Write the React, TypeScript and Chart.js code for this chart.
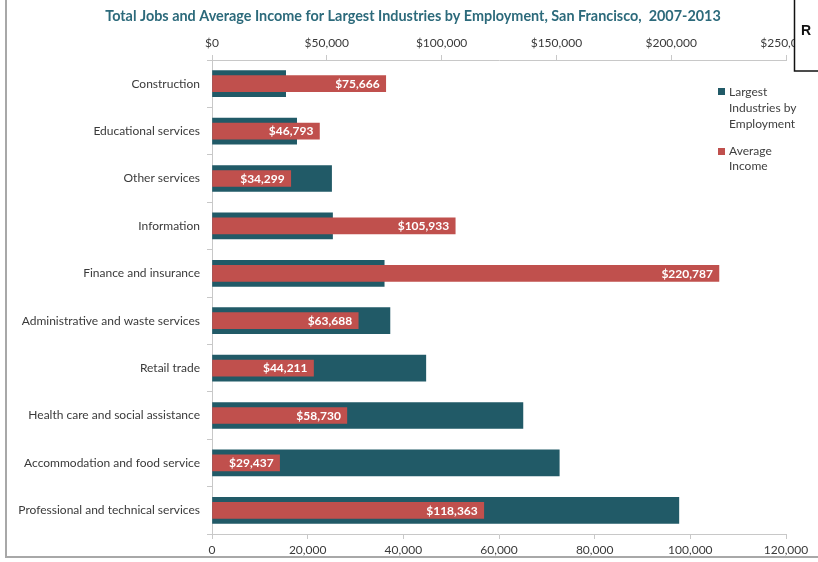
import React, { useEffect, useRef } from "react";
import { Chart, registerables } from "chart.js";

Chart.register(...registerables);

const categories = [
  "Construction",
  "Educational services",
  "Other services",
  "Information",
  "Finance and insurance",
  "Administrative and waste services",
  "Retail trade",
  "Health care and social assistance",
  "Accommodation and food service",
  "Professional and technical services",
];
const jobs = [15400, 17700, 25000, 25200, 36000, 37200, 44700, 65000, 72600, 97600];
const income = [75666, 46793, 34299, 105933, 220787, 63688, 44211, 58730, 29437, 118363];
const jobsAxisMax = 120000;
const jobsAxisStep = 20000;
const incomeAxisMax = 250000;
const incomeAxisStep = 50000;
const title = "Total Jobs and Average Income for Largest Industries by Employment, San Francisco,  2007-2013";
const jobsLegend = ["Largest", "Industries by", "Employment"];
const incomeLegend = ["Average", "Income"];
const cornerText = "R";

const TEAL = "#215a67";
const RED = "#c0504d";
const FONT = "Lato, 'Liberation Sans', sans-serif";
const AXIS_GRAY = "#c8c8c8";
const TEXT = "#3a3a3a";

const fmt = (v: number) => Math.round(v).toLocaleString("en-US");

export default function App() {
  const ref = useRef<HTMLCanvasElement>(null);
  useEffect(() => {
    const overlay = {
      id: "overlay",
      afterDatasetsDraw(chart: any) {
        const ctx = chart.ctx;
        const meta = chart.getDatasetMeta(1);
        ctx.save();
        ctx.font = `bold 12px ${FONT}`;
        ctx.fillStyle = "#ffffff";
        ctx.textAlign = "right";
        ctx.textBaseline = "middle";
        meta.data.forEach((el: any, i: number) => {
          ctx.fillText("$" + fmt(income[i]), el.x - 6, el.y + 0.5);
        });
        ctx.restore();
      },
      afterDraw(chart: any) {
        const ctx = chart.ctx;
        ctx.save();
        // title
        ctx.font = `bold 14.4px ${FONT}`;
        ctx.fillStyle = "#2c6a7b";
        ctx.textAlign = "center";
        ctx.textBaseline = "middle";
        ctx.fillText(title, 413, 16);
        // legend
        ctx.font = `12px ${FONT}`;
        ctx.textAlign = "left";
        ctx.fillStyle = TEAL;
        ctx.fillRect(718, 88, 7, 7);
        ctx.fillStyle = "#404040";
        jobsLegend.forEach((t, i) => ctx.fillText(t, 729, 92 + i * 16));
        ctx.fillStyle = RED;
        ctx.fillRect(718, 148, 7, 7);
        ctx.fillStyle = "#404040";
        incomeLegend.forEach((t, i) => ctx.fillText(t, 729, 151 + i * 15));
        // outer frame
        ctx.fillStyle = "#a8a8a8";
        ctx.fillRect(5, 0, 2, 558);
        ctx.fillRect(5, 556, 813, 2);
        // corner box
        ctx.fillStyle = "#ffffff";
        ctx.fillRect(794, -2, 30, 73);
        ctx.strokeStyle = "#111";
        ctx.lineWidth = 1.5;
        ctx.strokeRect(794.5, -2, 30, 73);
        ctx.fillStyle = "#111";
        ctx.font = `bold 14px 'Liberation Sans', sans-serif`;
        ctx.fillText(cornerText, 801, 31);
        ctx.restore();
      },
    };

    const chart = new Chart(ref.current as HTMLCanvasElement, {
      type: "bar",
      data: {
        labels: categories,
        datasets: [
          {
            label: "Largest Industries by Employment",
            data: jobs,
            xAxisID: "xJobs",
            backgroundColor: TEAL,
            barThickness: 26,
            grouped: false,
            order: 2,
          } as any,
          {
            label: "Average Income",
            data: income,
            xAxisID: "xIncome",
            backgroundColor: RED,
            barThickness: 16,
            grouped: false,
            order: 1,
          } as any,
        ],
      },
      options: {
        indexAxis: "y",
        responsive: false,
        animation: false,
        layout: { padding: { left: 0, right: 32, top: 0, bottom: 0 } },
        plugins: {
          legend: { display: false },
          title: { display: false },
          tooltip: { enabled: false },
        },
        scales: {
          y: {
            type: "category",
            position: "left",
            grid: {
              display: true,
              drawOnChartArea: false,
              offset: true,
              tickLength: 5,
              color: AXIS_GRAY,
            },
            border: { color: AXIS_GRAY },
            ticks: { font: { family: FONT, size: 12 }, color: TEXT, padding: 7 },
            afterFit: (s: any) => {
              s.width = 212;
            },
          },
          xJobs: {
            type: "linear",
            position: "bottom",
            min: 0,
            max: jobsAxisMax,
            grid: { drawOnChartArea: false, tickLength: 5, color: AXIS_GRAY },
            border: { color: AXIS_GRAY },
            ticks: {
              stepSize: jobsAxisStep,
              font: { family: FONT, size: 12 },
              color: TEXT,
              padding: 4,
              maxRotation: 0,
              callback: (v: any) => fmt(Number(v)),
            },
            afterFit: (s: any) => {
              s.height = 28;
            },
          },
          xIncome: {
            type: "linear",
            position: "top",
            min: 0,
            max: incomeAxisMax,
            grid: { drawOnChartArea: false, tickLength: 5, color: AXIS_GRAY },
            border: { color: AXIS_GRAY },
            ticks: {
              stepSize: incomeAxisStep,
              font: { family: FONT, size: 12 },
              color: TEXT,
              padding: 5,
              maxRotation: 0,
              callback: (v: any) => "$" + fmt(Number(v)),
            },
            afterFit: (s: any) => {
              s.height = 60;
            },
          },
        },
      },
      plugins: [overlay],
    });
    return () => chart.destroy();
  }, []);

  return (
    <div style={{ position: "fixed", left: 0, top: 0, width: 818, height: 562, background: "#fff" }}>
      <canvas ref={ref} width={818} height={562} style={{ display: "block" }} />
    </div>
  );
}
